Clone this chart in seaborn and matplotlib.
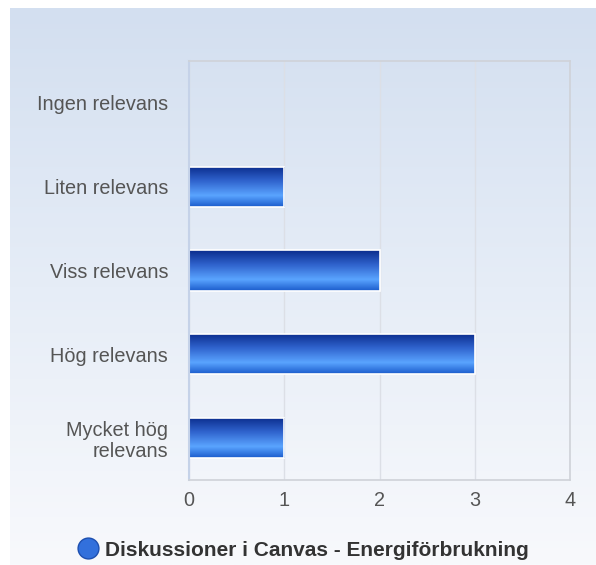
import numpy as np
import pandas as pd
import matplotlib
matplotlib.use("Agg")
import matplotlib.pyplot as plt
import seaborn as sns
from matplotlib.colors import LinearSegmentedColormap
from matplotlib.lines import Line2D

# Data
categories = ["Ingen relevans", "Liten relevans", "Viss relevans", "Hög relevans", "Mycket hög\nrelevans"]
counts = [0, 1, 2, 3, 1]
series_name = "Diskussioner i Canvas - Energiförbrukning"
x_ticks = [0, 1, 2, 3, 4]

df = pd.DataFrame({"category": categories, "count": counts})

sns.set_style("white")
plt.rcParams["font.family"] = ["Liberation Sans", "DejaVu Sans"]

fig = plt.figure(figsize=(5.96, 5.65), dpi=100)

# background panel gradient
bg = fig.add_axes([10 / 596, 0, 1 - 10 / 596, 1 - 8 / 565])
bg_cmap = LinearSegmentedColormap.from_list("bg", ["#d3dff0", "#e6edf7", "#f8f9fc"])
bg.imshow(np.linspace(0, 1, 256).reshape(-1, 1), aspect="auto", cmap=bg_cmap,
          extent=[0, 1, 0, 1])
bg.axis("off")

ax = fig.add_axes([189 / 596, 1 - 480 / 565, 381 / 596, 419 / 565])
ax.patch.set_alpha(0)

sns.barplot(data=df, x="count", y="category", orient="h", ax=ax,
            color="#2a62d0", width=0.48, edgecolor="white", linewidth=1.2)

ax.set_xlim(0, 4)
ax.set_ylim(4.5, -0.5)
ax.set_xticks(x_ticks)
ax.set_xlabel("")
ax.set_ylabel("")
ax.grid(axis="x", color="#dcdfe6", linewidth=1)
ax.set_axisbelow(True)
ax.tick_params(axis="y", length=0, pad=15, labelsize=14.3, labelcolor="#555555")
ax.tick_params(axis="x", length=0, pad=8, labelsize=14.3, labelcolor="#555555")
for lbl in ax.get_yticklabels():
    lbl.set_multialignment("right")
    lbl.set_linespacing(1.1)
for side in ["top", "right", "bottom"]:
    ax.spines[side].set_color("#cfd2d8")
    ax.spines[side].set_linewidth(1.2)
ax.spines["left"].set_color("#c5d2e8")
ax.spines["left"].set_linewidth(1.5)

# gradient fill for each bar
bar_cmap = LinearSegmentedColormap.from_list(
    "bar", [(0, "#0a2c8c"), (0.35, "#2f62cc"), (0.72, "#5aa4ff"), (1, "#1b5ccc")])
grad = np.linspace(0, 1, 128).reshape(-1, 1)
for patch in ax.patches:
    w = patch.get_width()
    if w <= 0:
        continue
    x0, y0 = patch.get_x(), patch.get_y()
    h = patch.get_height()
    im = ax.imshow(grad, aspect="auto", cmap=bar_cmap,
                   extent=[x0, x0 + w, y0 + h, y0], zorder=patch.get_zorder())
    im.set_clip_path(patch)
    patch.set_facecolor("none")
    patch.set_zorder(patch.get_zorder() + 0.1)
ax.set_xlim(0, 4)
ax.set_ylim(4.5, -0.5)

handle = Line2D([], [], marker="o", linestyle="none", markersize=15,
                markerfacecolor="#3270dc", markeredgecolor="#1d4fb0")
fig.legend([handle], [series_name], loc="center", bbox_to_anchor=(300 / 596, 1 - 550 / 565),
           frameon=False, handletextpad=0.0, handlelength=1.6,
           prop={"weight": "bold", "size": 15}, labelcolor="#333333")

fig.savefig("out.png", dpi=100)
